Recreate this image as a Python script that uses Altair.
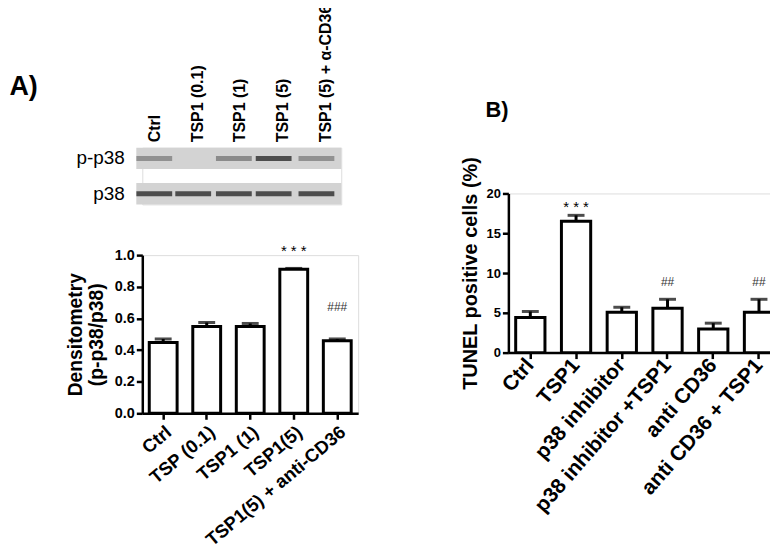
import json
import altair as alt
import pandas as pd

FONT = "Liberation Sans"

# ---------------- Panel A: western blot ----------------
lanes = ["Ctrl", "TSP1 (0.1)", "TSP1 (1)", "TSP1 (5)", "TSP1 (5) + α-CD36"]
lane_center = [0.0, 0.91, 1.86, 2.79, 3.79]      # band centres, in lane units
lane_label_pos = [0, 1, 2, 3, 4]
blot_rows = ["p-p38", "p38"]
p_p38_intensity = [0.45, 0.0, 0.5, 1.0, 0.45]
p38_intensity = [1.0, 1.0, 1.0, 1.0, 1.0]
strip_start = -0.42
strip_end = 4.37

# ---------------- Panel A: densitometry ----------------
dens_groups = ["Ctrl", "TSP (0.1)", "TSP1 (1)", "TSP1(5)", "TSP1(5) + anti-CD36"]
dens_mean = [0.448, 0.549, 0.549, 0.910, 0.459]
dens_sem = [0.022, 0.025, 0.019, 0.006, 0.011]
dens_star_group = ["TSP1(5)"]
dens_star_y = [1.025]
dens_hash_group = ["TSP1(5) + anti-CD36"]
dens_hash_y = [0.673]

# ---------------- Panel B: TUNEL ----------------
tunel_groups = ["Ctrl", "TSP1", "p38 inhibitor", "p38 inhibitor +TSP1",
                "anti CD36", "anti CD36 + TSP1"]
tunel_mean = [4.41, 16.5, 5.08, 5.58, 2.96, 5.08]
tunel_sem = [0.76, 0.75, 0.62, 1.12, 0.74, 1.62]
tunel_star_group = ["TSP1"]
tunel_star_y = [18.25]
tunel_hash_group = ["p38 inhibitor +TSP1", "anti CD36 + TSP1"]
tunel_hash_y = [8.87, 8.87]

# ====================== blot ======================
strip_df = pd.DataFrame({"row": blot_rows,
                         "x0": [strip_start] * len(blot_rows),
                         "x1": [strip_end] * len(blot_rows)})
band_df = pd.DataFrame({
    "row": [blot_rows[0]] * len(lanes) + [blot_rows[1]] * len(lanes),
    "lane": lane_center + lane_center,
    "intensity": p_p38_intensity + p38_intensity,
})

bx = alt.Scale(domain=[-0.28, 4.37], nice=False, zero=False)
by = alt.Scale(domain=blot_rows, paddingInner=0.394, paddingOuter=0)
label_expr = json.dumps(lanes, ensure_ascii=False) + "[round(datum.value)]"
blot_xaxis = alt.Axis(orient="top", values=lane_label_pos, labelExpr=label_expr,
                      title=None, domain=False, ticks=False, grid=False,
                      labelAngle=-90, labelFont=FONT, labelFontSize=16,
                      labelFontWeight="bold", labelColor="black",
                      labelPadding=6, labelOverlap=False)
blot_yaxis = alt.Axis(title=None, domain=False, ticks=False, labelFont=FONT,
                      labelFontSize=19, labelFontWeight="normal",
                      labelColor="black", labelPadding=18)

strips = alt.Chart(strip_df).mark_rect(fill="#d3d3d3").encode(
    x=alt.X("x0:Q", scale=bx, axis=blot_xaxis),
    x2="x1:Q",
    y=alt.Y("row:N", scale=by, sort=blot_rows, axis=blot_yaxis),
)
bands = alt.Chart(band_df).mark_tick(orient="horizontal", size=36, thickness=5).encode(
    x=alt.X("lane:Q", scale=bx, axis=blot_xaxis),
    y=alt.Y("row:N", scale=by, sort=blot_rows, axis=blot_yaxis),
    color=alt.Color("intensity:Q",
                    scale=alt.Scale(domain=[0, 1], range=["#d3d3d3", "#141414"]),
                    legend=None),
)
blot = alt.layer(strips, bands).properties(
    width=200, height=57,
    title=alt.TitleParams("A)", orient="left", angle=0, align="right",
                          baseline="middle", anchor="middle", frame="group",
                          offset=10, dy=-89, font=FONT, fontSize=27,
                          fontWeight="bold", color="black"),
)

# ====================== bar chart helper ======================
def bar_panel(groups, means, sems, y_domain, y_values, y_fmt, y_title,
              width, height, label_angle, label_size, tick_label_size,
              title_size, title_pad, star_groups, star_ys, hash_groups, hash_ys,
              hash_text):
    df = pd.DataFrame({"group": groups, "mean": means,
                       "upper": [m + s for m, s in zip(means, sems)]})
    xaxis = alt.Axis(title=None, labelAngle=label_angle,
                     labelFont=FONT, labelFontSize=label_size,
                     labelFontWeight="bold", labelColor="black",
                     tickSize=6, tickWidth=2.5, tickColor="black",
                     domainWidth=2.5, domainColor="black",
                     labelPadding=3, labelLimit=400, labelOverlap=False)
    xscale = alt.Scale(paddingInner=0.36, paddingOuter=0.16)
    xenc = alt.X("group:N", sort=groups, scale=xscale, axis=xaxis)
    yscale = alt.Scale(domain=y_domain, nice=False, zero=True)
    yaxis = alt.Axis(values=y_values, format=y_fmt, title=y_title,
                     labelFont=FONT, labelFontSize=tick_label_size,
                     labelFontWeight="bold", labelColor="black",
                     titleFont=FONT, titleFontSize=title_size,
                     titleFontWeight="bold", titleColor="black",
                     tickSize=6, tickWidth=2.5, tickColor="black",
                     domainWidth=2.5, domainColor="black", grid=False,
                     labelPadding=2, titlePadding=title_pad,
                     labelOverlap=False)
    base = alt.Chart(df)
    bars = base.mark_bar(fill="white", stroke="black", strokeWidth=3).encode(
        x=xenc, y=alt.Y("mean:Q", scale=yscale, axis=yaxis))
    err = base.mark_rule(color="black", strokeWidth=3).encode(
        x=xenc, y=alt.Y("mean:Q", scale=yscale, axis=yaxis), y2="upper:Q")
    cap = base.mark_tick(orient="horizontal", size=17, thickness=3,
                         color="black").encode(
        x=xenc, y=alt.Y("upper:Q", scale=yscale, axis=yaxis))
    star = alt.Chart(pd.DataFrame({"group": star_groups, "y": star_ys,
                                   "t": ["* * *"] * len(star_groups)})).mark_text(
        font=FONT, fontSize=15, color="black", baseline="middle").encode(
        x=xenc, y=alt.Y("y:Q", scale=yscale, axis=yaxis), text="t:N")
    hsh = alt.Chart(pd.DataFrame({"group": hash_groups, "y": hash_ys,
                                  "t": [hash_text] * len(hash_groups)})).mark_text(
        font=FONT, fontSize=12, color="#333333", baseline="middle").encode(
        x=xenc, y=alt.Y("y:Q", scale=yscale, axis=yaxis), text="t:N")
    return alt.layer(bars, err, cap, star, hsh).properties(width=width, height=height)


dens = bar_panel(dens_groups, dens_mean, dens_sem, [0, 1],
                 [0, 0.2, 0.4, 0.6, 0.8, 1.0], ".1f",
                 ["Densitometry", "(p-p38/p38)"], 217, 159, -40, 18.5, 14.5, 19.4, 8,
                 dens_star_group, dens_star_y, dens_hash_group, dens_hash_y, "###")

tunel = bar_panel(tunel_groups, tunel_mean, tunel_sem, [0, 20],
                  [0, 5, 10, 15, 20], "d", "TUNEL positive cells (%)",
                  274, 160, -49, 21, 13, 20, 6,
                  tunel_star_group, tunel_star_y, tunel_hash_group, tunel_hash_y, "##")

spacer = alt.Chart(pd.DataFrame({"v": [0]})).mark_point(opacity=0).properties(
    width=1, height=1,
    title=alt.TitleParams("B)", orient="top", anchor="start", frame="group",
                          offset=24, dx=-23, font=FONT, fontSize=22,
                          fontWeight="bold", color="black"))

panel_a = alt.vconcat(blot, dens, spacing=38)
panel_b = alt.vconcat(spacer, tunel, spacing=4)

chart = alt.hconcat(panel_a, panel_b, spacing=101).properties(
    padding={"left": 0, "top": -6, "right": -12, "bottom": 0}
).configure_view(strokeWidth=0, stroke="transparent").configure(background="white")

chart.save("out.html", embed_options={"renderer": "svg", "actions": False})
